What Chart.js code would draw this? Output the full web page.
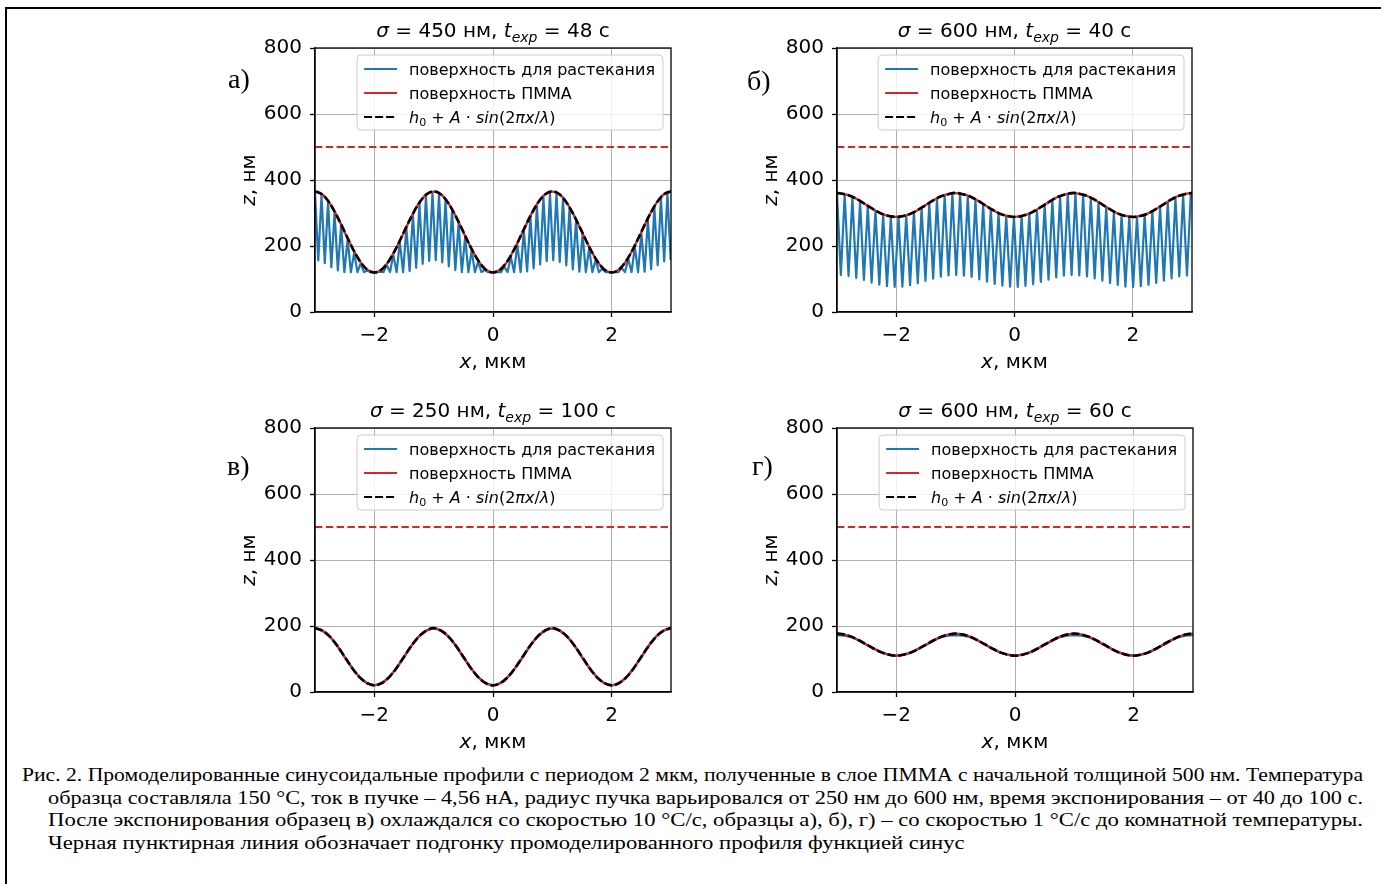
<!DOCTYPE html>
<html>
<head>
<meta charset="utf-8">
<script src="https://cdn.jsdelivr.net/npm/chart.js@4.4.1/dist/chart.umd.min.js"></script>
<style>
  body { margin: 0; background: #fff; width: 1381px; height: 884px; overflow: hidden; position: relative; }
  canvas { position: absolute; }
  #frame { position: absolute; left: 5px; top: 7px; width: 1400px; height: 900px; border-left: 2px solid #000; border-top: 2px solid #000; }
  .cap { position: absolute; font-family: "Liberation Serif"; font-size: 19px; line-height: 22px; white-space: nowrap; transform-origin: 0 0; color: #000; }
</style>
</head>
<body>
<div id="frame"></div>
<canvas id="c0" width="490" height="380" style="left:200px;top:0px"></canvas>
<canvas id="c1" width="490" height="380" style="left:722px;top:0px"></canvas>
<canvas id="c2" width="490" height="380" style="left:200px;top:380px"></canvas>
<canvas id="c3" width="490" height="380" style="left:722px;top:380px"></canvas>
<script>
// ---- data ----
var xTicks = [-2, 0, 2];
var yTicks = [0, 200, 400, 600, 800];
var initialThickness = 500;

var xCurve = [-3, -2.875, -2.75, -2.625, -2.5, -2.375, -2.25, -2.125, -2, -1.875, -1.75, -1.625, -1.5, -1.375, -1.25, -1.125,
  -1, -0.875, -0.75, -0.625, -0.5, -0.375, -0.25, -0.125, 0, 0.125, 0.25, 0.375, 0.5, 0.625, 0.75, 0.875,
  1, 1.125, 1.25, 1.375, 1.5, 1.625, 1.75, 1.875, 2, 2.125, 2.25, 2.375, 2.5, 2.625, 2.75, 2.875, 3];

// а) sigma 450 nm, 48 s
var pmmaA = [365, 356, 329, 289, 242, 196, 156, 129, 120, 129, 156, 196, 242, 289, 329, 356,
  365, 356, 329, 289, 242, 196, 156, 129, 120, 129, 156, 196, 242, 289, 329, 356,
  365, 356, 329, 289, 242, 196, 156, 129, 120, 129, 156, 196, 242, 289, 329, 356, 365];
var fitA = [366, 356, 329, 289, 243, 196, 156, 129, 120, 129, 156, 196, 243, 289, 329, 356,
  366, 356, 329, 289, 243, 196, 156, 129, 120, 129, 156, 196, 243, 289, 329, 356,
  366, 356, 329, 289, 243, 196, 156, 129, 120, 129, 156, 196, 243, 289, 329, 356, 366];
var spreadStepA = 0.055;
var spreadTopA = [361, 354, 333, 301, 261, 219, 180, 147, 125, 121, 122, 142, 173, 212, 254, 294, 328, 351, 361, 356,
  338, 307, 269, 227, 186, 152, 128, 121, 121, 137, 167, 204, 246, 287, 322, 348, 360, 358, 342, 314,
  276, 235, 193, 158, 131, 121, 121, 133, 160, 197, 239, 280, 317, 344, 359];
var spreadLowA = [156, 148, 136, 126, 121, 121, 121, 121, 121, 121, 121, 121, 121, 121, 124, 134, 146, 155, 157, 150,
  138, 127, 121, 121, 121, 121, 121, 121, 121, 121, 121, 121, 123, 132, 144, 154, 157, 152, 141, 129,
  122, 121, 121, 121, 121, 121, 121, 121, 121, 121, 122, 130, 142, 153, 157];

// б) sigma 600 nm, 40 s
var pmmaB = [360, 357, 350, 338, 324, 310, 298, 291, 288, 291, 298, 310, 324, 338, 350, 357,
  360, 357, 350, 338, 324, 310, 298, 291, 288, 291, 298, 310, 324, 338, 350, 357,
  360, 357, 350, 338, 324, 310, 298, 291, 288, 291, 298, 310, 324, 338, 350, 357, 360];
var fitB = [361, 357, 350, 338, 324, 310, 298, 291, 288, 291, 298, 310, 324, 338, 350, 357,
  361, 357, 350, 338, 324, 310, 298, 291, 288, 291, 298, 310, 324, 338, 350, 357,
  361, 357, 350, 338, 324, 310, 298, 291, 288, 291, 298, 310, 324, 338, 350, 357, 361];
var spreadStepB = 0.065;
var spreadTopB = [358, 355, 347, 334, 320, 306, 294, 287, 286, 291, 301, 314, 329, 342, 352, 358, 357, 350, 339, 325,
  311, 298, 289, 286, 289, 297, 309, 323, 337, 349, 356, 358, 354, 344, 331, 316, 303, 292, 287, 287,
  293, 304, 318, 332, 345, 354, 358];
var spreadLowB = [112, 109, 103, 97, 89, 83, 78, 76, 77, 81, 87, 94, 101, 107, 111, 112, 110, 106, 99, 92,
  85, 80, 77, 76, 79, 84, 91, 98, 105, 110, 112, 111, 108, 102, 95, 88, 82, 77, 76, 78,
  82, 88, 95, 102, 108, 111];

// в) sigma 250 nm, 100 s
var pmmaC = [193, 186, 168, 140, 106, 73, 45, 27, 20, 27, 45, 73, 106, 140, 168, 186,
  193, 186, 168, 140, 106, 73, 45, 27, 20, 27, 45, 73, 106, 140, 168, 186,
  193, 186, 168, 140, 106, 73, 45, 27, 20, 27, 45, 73, 106, 140, 168, 186, 193];
var fitC = [194, 186, 168, 140, 107, 73, 45, 27, 20, 27, 45, 73, 107, 140, 168, 186,
  194, 186, 168, 140, 107, 73, 45, 27, 20, 27, 45, 73, 107, 140, 168, 186,
  194, 186, 168, 140, 107, 73, 45, 27, 20, 27, 45, 73, 107, 140, 168, 186, 194];
var spreadC = [193, 186, 168, 140, 106, 73, 45, 27, 20, 27, 45, 73, 106, 140, 168, 186,
  193, 186, 168, 140, 106, 73, 45, 27, 20, 27, 45, 73, 106, 140, 168, 186,
  193, 186, 168, 140, 106, 73, 45, 27, 20, 27, 45, 73, 106, 140, 168, 186, 193];

// г) sigma 600 nm, 60 s
var pmmaD = [177, 174, 167, 156, 143, 131, 120, 113, 110, 113, 120, 131, 143, 156, 167, 174,
  177, 174, 167, 156, 143, 131, 120, 113, 110, 113, 120, 131, 143, 156, 167, 174,
  177, 174, 167, 156, 143, 131, 120, 113, 110, 113, 120, 131, 143, 156, 167, 174, 177];
var fitD = [177, 174, 167, 156, 144, 131, 120, 113, 110, 113, 120, 131, 144, 156, 167, 174,
  177, 174, 167, 156, 144, 131, 120, 113, 110, 113, 120, 131, 144, 156, 167, 174,
  177, 174, 167, 156, 144, 131, 120, 113, 110, 113, 120, 131, 144, 156, 167, 174, 177];
var spreadD = [172, 171, 166, 156, 143, 131, 120, 113, 110, 113, 120, 131, 143, 156, 166, 171,
  172, 171, 166, 156, 143, 131, 120, 113, 110, 113, 120, 131, 143, 156, 166, 171,
  172, 171, 166, 156, 143, 131, 120, 113, 110, 113, 120, 131, 143, 156, 166, 171, 172];

var legendNames = ["поверхность для растекания", "поверхность ПММА"];
var captionLines = [
  "Рис. 2. Промоделированные синусоидальные профили с периодом 2 мкм, полученные в слое ПММА с начальной толщиной 500 нм. Температура",
  "образца составляла 150 °C, ток в пучке – 4,56 нА, радиус пучка варьировался от 250 нм до 600 нм, время экспонирования – от 40 до 100 с.",
  "После экспонирования образец в) охлаждался со скоростью 10 °C/с, образцы а), б), г) – со скоростью 1 °C/с до комнатной температуры.",
  "Черная пунктирная линия обозначает подгонку промоделированного профиля функцией синус"
];

// ---- helpers ----
var FF = '"DejaVu Sans"';
function pairs(xs, ys) {
  var out = [];
  for (var i = 0; i < ys.length; i++) out.push({ x: xs[i], y: ys[i] });
  return out;
}
// saw-tooth: tips alternate top/low along x with a fixed half step
function zigzag(top, low, step) {
  var out = [];
  var k = 0;
  for (var i = 0; i < top.length; i++) {
    out.push({ x: -3 + step * k, y: top[i] }); k++;
    if (i < low.length) { out.push({ x: -3 + step * k, y: low[i] }); k++; }
  }
  return out;
}
function fmtTick(v) { return v < 0 ? "\u2212" + Math.abs(v) : String(v); }

function drawRich(ctx, segs, x, y, align) {
  var w = 0;
  segs.forEach(function (s) { ctx.font = s.f; s.w = ctx.measureText(s.t).width; w += s.w; });
  var cx = align === "center" ? x - w / 2 : x;
  ctx.textBaseline = "alphabetic";
  ctx.textAlign = "left";
  segs.forEach(function (s) {
    ctx.font = s.f;
    ctx.fillText(s.t, cx, y + (s.dy || 0));
    cx += s.w;
  });
  return w;
}

var decor = {
  id: "decor",
  afterDatasetsDraw: function (chart) {
    var ctx = chart.ctx, a = chart.chartArea;
    ctx.save();
    ctx.strokeStyle = "#000";
    ctx.lineWidth = 1.3;
    ctx.strokeRect(a.left, a.top, a.right - a.left, a.bottom - a.top);

    // legend
    var r = "16px " + FF, it = "italic 16px " + FF, sm = "11px " + FF;
    var mathSegs = [
      { t: "h", f: it }, { t: "0", f: sm, dy: 3 }, { t: " + ", f: r }, { t: "A", f: it }, { t: " · ", f: r },
      { t: "sin", f: it }, { t: "(2", f: r }, { t: "π", f: it }, { t: "x", f: it }, { t: "/", f: r },
      { t: "λ", f: it }, { t: ")", f: r }
    ];
    ctx.font = r;
    var tw = Math.max(ctx.measureText(legendNames[0]).width, ctx.measureText(legendNames[1]).width);
    var bw = 52 + tw + 8, bh = 75;
    var bx = a.right - 8 - bw, by = a.top + 7;
    ctx.beginPath();
    ctx.roundRect(bx, by, bw, bh, 4);
    ctx.fillStyle = "rgba(255,255,255,0.8)";
    ctx.fill();
    ctx.strokeStyle = "#cccccc";
    ctx.lineWidth = 1;
    ctx.stroke();
    var ds = chart.data.datasets;
    for (var i = 0; i < 3; i++) {
      var yy = by + 14 + 24 * i;
      ctx.beginPath();
      ctx.setLineDash(ds[i].borderDash || []);
      ctx.strokeStyle = ds[i].borderColor;
      ctx.lineWidth = 2.2;
      ctx.moveTo(bx + 7, yy);
      ctx.lineTo(bx + 40, yy);
      ctx.stroke();
      ctx.setLineDash([]);
      ctx.fillStyle = "#000";
      if (i < 2) drawRich(ctx, [{ t: legendNames[i], f: r }], bx + 52, yy + 6, "left");
      else drawRich(ctx, mathSegs, bx + 52, yy + 6, "left");
    }
    ctx.restore();
  },
  afterDraw: function (chart) {
    var ctx = chart.ctx, a = chart.chartArea, o = chart.options.plugins.decor;
    var cx = (a.left + a.right) / 2, cy = (a.top + a.bottom) / 2;
    var r20 = "20px " + FF, i20 = "italic 20px " + FF, i14 = "italic 14px " + FF;
    ctx.save();
    ctx.fillStyle = "#000";
    // title
    drawRich(ctx, [
      { t: "σ", f: i20 }, { t: " = " + o.sigma + " нм, ", f: r20 },
      { t: "t", f: i20 }, { t: "exp", f: i14, dy: 5 }, { t: " = " + o.texp + " с", f: r20 }
    ], cx, a.top - 11, "center");
    // x label
    drawRich(ctx, [{ t: "x", f: i20 }, { t: ", мкм", f: r20 }], cx, a.bottom + 56, "center");
    // y label
    ctx.save();
    ctx.translate(a.left - 60, cy);
    ctx.rotate(-Math.PI / 2);
    drawRich(ctx, [{ t: "z", f: i20 }, { t: ", нм", f: r20 }], 0, 0, "center");
    ctx.restore();
    // panel letter
    ctx.font = '28px "Liberation Serif"';
    ctx.textBaseline = "alphabetic";
    ctx.fillText(o.letter, o.lx, o.ly);
    ctx.restore();
  }
};

function makePanel(id, spread, pmma, fit, padRight, info) {
  var level = [{ x: -3, y: initialThickness }, { x: 3, y: initialThickness }];
  var tickFont = { family: "DejaVu Sans", size: 20 };
  return new Chart(document.getElementById(id), {
    type: "line",
    data: {
      datasets: [
        { label: legendNames[0], data: spread, borderColor: "#1f77b4", borderWidth: 2.2, pointRadius: 0, tension: 0, borderJoinStyle: "round", order: 3 },
        { label: legendNames[1], data: pairs(xCurve, pmma), borderColor: "#d62728", borderWidth: 2.3, pointRadius: 0, cubicInterpolationMode: "monotone", order: 2 },
        { label: "fit", data: pairs(xCurve, fit), borderColor: "#000000", borderWidth: 2.6, borderDash: [8, 3], pointRadius: 0, cubicInterpolationMode: "monotone", order: 1 },
        { label: "h", data: level, borderColor: "#d62728", borderWidth: 2.2, borderDash: [7.4, 3.4], pointRadius: 0, order: 2 }
      ]
    },
    options: {
      responsive: false,
      maintainAspectRatio: false,
      animation: false,
      layout: { padding: { left: 42, top: 48, right: padRight, bottom: 0 } },
      plugins: { legend: { display: false }, tooltip: { enabled: false }, decor: info },
      scales: {
        x: {
          type: "linear", min: -3, max: 3,
          afterBuildTicks: function (s) { s.ticks = xTicks.map(function (v) { return { value: v }; }); },
          afterFit: function (s) { s.height = 68; },
          ticks: { font: tickFont, color: "#000", padding: 7, maxRotation: 0, autoSkip: false, callback: fmtTick },
          grid: { color: "#b0b0b0", lineWidth: 1, tickColor: "#000", tickLength: 5, tickWidth: 1.3 },
          border: { color: "#000", width: 1.3 }
        },
        y: {
          type: "linear", min: 0, max: 800,
          afterBuildTicks: function (s) { s.ticks = yTicks.map(function (v) { return { value: v }; }); },
          afterFit: function (s) { s.width = 73; },
          ticks: { font: tickFont, color: "#000", padding: 8, callback: fmtTick },
          grid: { color: "#b0b0b0", lineWidth: 1, tickColor: "#000", tickLength: 5, tickWidth: 1.3 },
          border: { color: "#000", width: 1.3 }
        }
      }
    },
    plugins: [decor]
  });
}

makePanel("c0", zigzag(spreadTopA, spreadLowA, spreadStepA), pmmaA, fitA, 19, { sigma: 450, texp: 48, letter: "а)", lx: 28, ly: 88 });
makePanel("c1", zigzag(spreadTopB, spreadLowB, spreadStepB), pmmaB, fitB, 20, { sigma: 600, texp: 40, letter: "б)", lx: 25, ly: 90 });
makePanel("c2", pairs(xCurve, spreadC), pmmaC, fitC, 19, { sigma: 250, texp: 100, letter: "в)", lx: 27, ly: 95 });
makePanel("c3", pairs(xCurve, spreadD), pmmaD, fitD, 19, { sigma: 600, texp: 60, letter: "г)", lx: 30, ly: 95 });

// caption, each line stretched to the column like the justified original
var capLeft = [22, 48, 48, 48];
var capRight = [1363, 1363, 1363, 0];
var lastScale = 1;
captionLines.forEach(function (t, i) {
  var d = document.createElement("div");
  d.className = "cap";
  d.textContent = t;
  d.style.left = capLeft[i] + "px";
  d.style.top = (764 + 22.5 * i) + "px";
  document.body.appendChild(d);
  var w = d.getBoundingClientRect().width;
  var s = capRight[i] ? (capRight[i] - capLeft[i]) / w : lastScale;
  lastScale = s;
  d.style.transform = "scaleX(" + s + ")";
});
</script>
</body>
</html>
